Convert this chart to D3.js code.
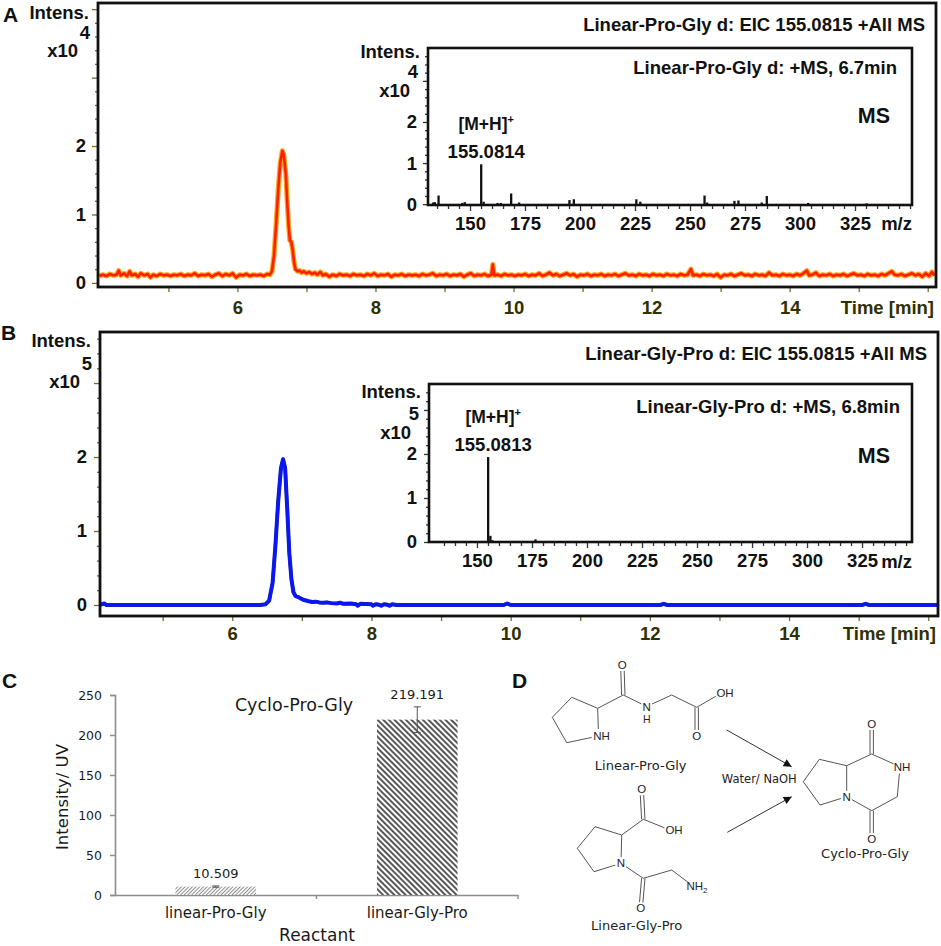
<!DOCTYPE html>
<html>
<head>
<meta charset="utf-8">
<script src="https://cdn.jsdelivr.net/npm/d3@7"></script>
<style>
body { margin: 0; background: #fff; }
svg { display: block; }
</style>
</head>
<body>
<div id="chart"></div>
<script>
// ---------- data (intensities in units of the axis exponent) ----------
// EIC 155.0815, linear Pro-Gly  [time min, intensity x10^4]
var eicProGly = [
[4.00,.10],[4.05,.12],[4.10,.10],[4.15,.13],[4.20,.11],[4.25,.12],[4.28,.18],[4.31,.11],[4.36,.14],[4.40,.10],
[4.44,.17],[4.47,.11],[4.52,.13],[4.56,.09],[4.60,.14],[4.65,.11],[4.70,.13],[4.74,.08],[4.78,.12],[4.83,.10],
[4.88,.13],[4.93,.11],[4.98,.12],[5.03,.10],[5.08,.12],[5.13,.11],[5.18,.13],[5.23,.10],[5.28,.12],[5.33,.11],
[5.38,.14],[5.43,.10],[5.48,.12],[5.53,.11],[5.58,.13],[5.63,.09],[5.68,.12],[5.73,.14],[5.78,.10],[5.83,.13],
[5.88,.11],[5.93,.14],[5.98,.08],[6.03,.12],[6.08,.11],[6.13,.13],[6.18,.10],[6.23,.12],[6.28,.11],[6.33,.12],
[6.38,.10],[6.43,.13],[6.47,.12],[6.50,.17],[6.53,.40],[6.56,.85],[6.59,1.35],[6.62,1.75],[6.65,1.93],[6.67,1.88],
[6.70,1.60],[6.72,1.20],[6.74,.85],[6.76,.62],[6.78,.60],[6.80,.48],[6.82,.30],[6.84,.20],[6.87,.17],[6.90,.18],
[6.93,.15],[6.96,.17],[7.00,.14],[7.04,.16],[7.08,.13],[7.12,.15],[7.16,.12],[7.20,.16],[7.24,.11],[7.28,.13],
[7.33,.09],[7.38,.12],[7.43,.10],[7.48,.13],[7.53,.11],[7.58,.12],[7.63,.10],[7.68,.13],[7.73,.11],[7.78,.12],
[7.83,.10],[7.88,.13],[7.93,.11],[7.98,.14],[8.03,.10],[8.08,.12],[8.13,.11],[8.18,.13],[8.23,.09],[8.28,.12],
[8.33,.11],[8.38,.13],[8.43,.10],[8.48,.12],[8.53,.11],[8.58,.12],[8.63,.10],[8.68,.13],[8.73,.11],[8.78,.12],
[8.83,.14],[8.88,.10],[8.93,.12],[8.98,.11],[9.03,.13],[9.08,.10],[9.13,.12],[9.18,.11],[9.23,.13],[9.28,.09],
[9.33,.12],[9.38,.14],[9.43,.10],[9.48,.12],[9.53,.11],[9.58,.13],[9.63,.10],[9.68,.12],[9.70,.27],[9.72,.11],
[9.77,.12],[9.82,.10],[9.87,.13],[9.92,.11],[9.97,.12],[10.02,.10],[10.07,.12],[10.12,.11],[10.17,.13],[10.22,.10],
[10.27,.12],[10.32,.11],[10.37,.14],[10.42,.10],[10.47,.12],[10.52,.15],[10.57,.11],[10.62,.13],[10.67,.10],[10.72,.12],
[10.77,.14],[10.82,.11],[10.87,.13],[10.92,.09],[10.97,.12],[11.02,.11],[11.07,.13],[11.12,.10],[11.17,.12],[11.22,.11],
[11.27,.13],[11.32,.10],[11.37,.12],[11.42,.11],[11.47,.13],[11.52,.10],[11.57,.12],[11.62,.14],[11.67,.11],[11.72,.12],
[11.77,.10],[11.82,.13],[11.87,.11],[11.92,.12],[11.97,.10],[12.02,.13],[12.07,.11],[12.12,.12],[12.17,.10],[12.22,.13],
[12.27,.11],[12.32,.12],[12.37,.10],[12.42,.13],[12.47,.11],[12.52,.12],[12.57,.20],[12.60,.11],[12.65,.12],[12.70,.10],
[12.75,.13],[12.80,.11],[12.85,.12],[12.90,.10],[12.95,.13],[13.00,.08],[13.05,.12],[13.10,.11],[13.15,.13],[13.20,.10],
[13.25,.12],[13.30,.14],[13.35,.11],[13.40,.12],[13.45,.10],[13.50,.13],[13.55,.11],[13.60,.12],[13.65,.10],[13.70,.15],
[13.75,.11],[13.80,.12],[13.85,.10],[13.90,.13],[13.95,.11],[14.00,.12],[14.05,.10],[14.10,.13],[14.15,.11],[14.20,.14],
[14.25,.18],[14.28,.11],[14.33,.12],[14.38,.15],[14.43,.10],[14.48,.12],[14.53,.11],[14.58,.13],[14.63,.10],[14.68,.12],
[14.73,.11],[14.78,.13],[14.83,.10],[14.88,.12],[14.93,.14],[14.98,.11],[15.03,.12],[15.08,.10],[15.13,.13],[15.18,.11],
[15.23,.12],[15.28,.10],[15.33,.13],[15.38,.11],[15.43,.14],[15.48,.17],[15.52,.12],[15.57,.11],[15.62,.13],[15.67,.10],
[15.72,.12],[15.77,.14],[15.82,.11],[15.87,.13],[15.92,.09],[15.97,.14],[16.02,.10],[16.06,.16],[16.10,.11]
];

// EIC 155.0815, linear Gly-Pro  [time min, intensity x10^5]
var eicGlyPro = [
[4.10,0],[4.16,.02],[4.19,0],[5.00,0],[6.00,0],[6.40,0],[6.48,.01],[6.53,.06],[6.58,.30],[6.62,.80],
[6.66,1.40],[6.70,1.85],[6.73,1.97],[6.76,1.85],[6.79,1.30],[6.82,.70],[6.85,.35],[6.88,.17],[6.91,.12],[6.94,.11],
[6.98,.09],[7.02,.07],[7.06,.06],[7.10,.05],[7.15,.04],[7.20,.045],[7.25,.035],[7.30,.03],[7.36,.035],[7.42,.025],
[7.50,.02],[7.55,.03],[7.60,.015],[7.70,.02],[7.78,.01],[7.80,-.01],[7.84,.015],[8.00,.01],[8.02,-.01],[8.06,.01],
[8.10,.005],[8.14,-.01],[8.18,.01],[8.22,.005],[8.26,-.01],[8.30,.01],[8.36,0],[9.90,0],[9.95,.02],[10.00,0],
[12.15,0],[12.20,.015],[12.25,0],[15.05,0],[15.10,.015],[15.15,0],[16.14,0]
];

// MS at 6.7 min, linear Pro-Gly  [m/z, intensity x10^4]
var msProGly = [
[133.2,.04],[134.0,.05],[135.7,.21],[146.5,.03],[147.6,.05],[155.08,.97],[156.2,.06],[162.5,.03],[164.0,.03],
[168.7,.26],[172.3,.04],[195.2,.10],[197.2,.12],[225.6,.12],[227.4,.06],[256.6,.21],[257.8,.04],[270.2,.08],
[272.0,.09],[282.6,.04],[284.9,.20],[303.7,.03],[330.3,.02]
];

// MS at 6.8 min, linear Gly-Pro  [m/z, intensity x10^5]
var msGlyPro = [[140.0,.01],[155.08,1.93],[156.1,.14],[157.0,.04],[176.6,.06]];

var timeTicks = [6, 8, 10, 12, 14];
var mzTicks = [150, 175, 200, 225, 250, 275, 300, 325];
var intensLabels = [0, 1, 2];

var reactants = ["linear-Pro-Gly", "linear-Gly-Pro"];
var cycloMean = [10.509, 219.191];
var cycloErr = [0.8, 16];
var barTicks = [0, 50, 100, 150, 200, 250];

// ---------- drawing ----------
var W = 941, H = 946;
var bruker = "'Liberation Sans', Arial, sans-serif";
var office = "'DejaVu Sans', Verdana, sans-serif";
var olive = "#6f6f2a";
var fs = 18.5;

var svg = d3.select("#chart").append("svg")
  .attr("width", W).attr("height", H)
  .attr("viewBox", [0, 0, W, H]);

var defs = svg.append("defs");

function styleAxis(g, color, textColor) {
  g.select(".domain").remove();
  g.selectAll(".tick line").attr("stroke", color).attr("stroke-width", 1.3);
  g.selectAll(".tick text")
    .attr("fill", textColor)
    .attr("font-family", bruker)
    .attr("font-weight", "bold")
    .attr("font-size", fs);
}

function label(x, y, txt, opt) {
  opt = opt || {};
  return svg.append("text")
    .attr("x", x).attr("y", y)
    .attr("text-anchor", opt.anchor || "start")
    .attr("font-family", opt.font || bruker)
    .attr("font-weight", opt.weight || "bold")
    .attr("font-size", opt.size || fs)
    .attr("fill", opt.color || "#111")
    .text(txt);
}

// main chromatogram panel with inset spectrum
function chromPanel(p) {
  var x = d3.scaleLinear().domain(p.xDom).range([p.x0, p.x1]);
  var y = d3.scaleLinear().domain(p.yDom).range([p.y1, p.y0]);
  var g = svg.append("g");

  var yMinor = d3.range(0, p.yDom[1], 0.2).filter(function(v) { return Math.abs(v - Math.round(v)) > 1e-6; });
  var yMajor = d3.range(0, Math.floor(p.yDom[1]) + 1, 1);
  g.append("g").attr("transform", "translate(" + p.x0 + ",0)")
    .call(d3.axisLeft(y).tickValues(yMinor).tickSize(3).tickFormat(""))
    .call(styleAxis, olive, "#111");
  g.append("g").attr("transform", "translate(" + p.x0 + ",0)")
    .call(d3.axisLeft(y).tickValues(yMajor).tickSize(6).tickPadding(p.yPad)
      .tickFormat(function(d) { return intensLabels.indexOf(d) >= 0 ? d : ""; }))
    .call(styleAxis, olive, "#111");

  var xMinor = d3.range(5, p.xDom[1], 2);
  g.append("g").attr("transform", "translate(0," + p.y1 + ")")
    .call(d3.axisBottom(x).tickValues(xMinor).tickSize(5).tickFormat(""))
    .call(styleAxis, olive, "#303000");
  g.append("g").attr("transform", "translate(0," + p.y1 + ")")
    .call(d3.axisBottom(x).tickValues(timeTicks.concat([16])).tickSize(5).tickPadding(p.xPad)
      .tickFormat(function(d) { return timeTicks.indexOf(d) >= 0 ? d : ""; }))
    .call(styleAxis, olive, "#303000");

  var clipId = "clip" + p.id;
  defs.append("clipPath").attr("id", clipId)
    .append("rect").attr("x", p.x0).attr("y", p.y0)
    .attr("width", p.x1 - p.x0).attr("height", p.y1 - p.y0);

  var line = d3.line().x(function(d) { return x(d[0]); }).y(function(d) { return y(d[1]); });
  var tr = g.append("g").attr("clip-path", "url(#" + clipId + ")");
  tr.append("path").datum(p.data).attr("d", line).attr("fill", "none")
    .attr("stroke", p.halo).attr("stroke-width", p.haloWidth).attr("stroke-linejoin", "round");
  tr.append("path").datum(p.data).attr("d", line).attr("fill", "none")
    .attr("stroke", p.color).attr("stroke-width", p.width).attr("stroke-linejoin", "round");

  g.append("rect").attr("x", p.x0).attr("y", p.y0)
    .attr("width", p.x1 - p.x0).attr("height", p.y1 - p.y0)
    .attr("fill", "none").attr("stroke", "#111").attr("stroke-width", 2.8);

  label(p.x1 - 2, p.timeBase, "Time [min]", { anchor: "end", color: "#303000" });
  label(p.x0 - 9, p.intensBase, "Intens.", { anchor: "end" });
  label(p.x0 - 8, p.expBase, p.exp, { anchor: "end" });
  label(p.x0 - 20, p.expBase + 18, "x10", { anchor: "end" });
  label(p.titleX, p.titleBase, p.title, { anchor: "end" });
  label(p.letterX, p.letterBase, p.letter, { size: 21 });

  inset(p.inset);
}

function inset(q) {
  var x = d3.scaleLinear().domain(q.xDom).range([q.x0, q.x1]);
  var y = d3.scaleLinear().domain(q.yDom).range([q.y1, q.y0]);
  var g = svg.append("g");

  g.append("rect").attr("x", q.x0).attr("y", q.y0)
    .attr("width", q.x1 - q.x0).attr("height", q.y1 - q.y0).attr("fill", "#fff");

  var yMinor = d3.range(0, q.yDom[1], 0.2).filter(function(v) { return Math.abs(v - Math.round(v)) > 1e-6; });
  var yMajor = d3.range(0, Math.floor(q.yDom[1]) + 1, 1);
  g.append("g").attr("transform", "translate(" + q.x0 + ",0)")
    .call(d3.axisLeft(y).tickValues(yMinor).tickSize(3).tickFormat(""))
    .call(styleAxis, "#333", "#111");
  g.append("g").attr("transform", "translate(" + q.x0 + ",0)")
    .call(d3.axisLeft(y).tickValues(yMajor).tickSize(5).tickPadding(q.yPad)
      .tickFormat(function(d) { return intensLabels.indexOf(d) >= 0 ? d : ""; }))
    .call(styleAxis, "#333", "#111");

  var xMinor = d3.range(135, q.xDom[1], 5).filter(function(v) { return mzTicks.indexOf(v) < 0; });
  g.append("g").attr("transform", "translate(0," + q.y1 + ")")
    .call(d3.axisBottom(x).tickValues(xMinor).tickSize(4).tickFormat(""))
    .call(styleAxis, "#333", "#111");
  g.append("g").attr("transform", "translate(0," + q.y1 + ")")
    .call(d3.axisBottom(x).tickValues(mzTicks).tickSize(6).tickPadding(6))
    .call(styleAxis, "#333", "#111");

  g.selectAll(".stick").data(q.data).enter().append("line")
    .attr("x1", function(d) { return x(d[0]); }).attr("x2", function(d) { return x(d[0]); })
    .attr("y1", y(0)).attr("y2", function(d) { return y(d[1]); })
    .attr("stroke", "#111").attr("stroke-width", 2.3);

  g.append("rect").attr("x", q.x0).attr("y", q.y0)
    .attr("width", q.x1 - q.x0).attr("height", q.y1 - q.y0)
    .attr("fill", "none").attr("stroke", "#111").attr("stroke-width", 2.6);

  label(q.x1, q.axisBase, "m/z", { anchor: "end" });
  label(q.x0 - 8, q.intensBase, "Intens.", { anchor: "end" });
  label(q.x0 - 10, q.expBase, q.exp, { anchor: "end" });
  label(q.x0 - 18, q.expBase + 19, "x10", { anchor: "end" });
  label(q.titleX, q.titleBase, q.title, { anchor: "end" });
  label(q.x1 - 22, q.msBase, "MS", { anchor: "end", size: 21.5 });

  // annotate the base peak
  var top = q.data.reduce(function(a, b) { return b[1] > a[1] ? b : a; });
  var px = x(top[0]) + 5;
  var t = label(px, y(top[1]) - 34, "[M+H]", { anchor: "middle", size: 17.5 });
  t.append("tspan").attr("dy", -7).attr("font-size", 11).text("+");
  label(px, y(top[1]) - 6, q.peakLabel, { anchor: "middle" });
}

chromPanel({
  id: "A", letter: "A", letterX: 3, letterBase: 22,
  x0: 98, x1: 936, y0: 3, y1: 287,
  xDom: [3.98, 16.12], yDom: [-0.06, 4.09],
  yPad: 6, xPad: 9, timeBase: 314,
  intensBase: 19, expBase: 39, exp: "4",
  title: "Linear-Pro-Gly d: EIC 155.0815 +All MS", titleX: 925, titleBase: 31,
  data: eicProGly, color: "#ff1e00", width: 2.6, halo: "#ffa51f", haloWidth: 5,
  inset: {
    x0: 428, x1: 912, y0: 48, y1: 205, xDom: [130.9, 350.9], yDom: [-0.02, 3.8],
    yPad: 6, axisBase: 230, intensBase: 58, expBase: 78, exp: "4",
    title: "Linear-Pro-Gly d: +MS, 6.7min", titleX: 897, titleBase: 74, msBase: 123,
    data: msProGly, peakLabel: "155.0814"
  }
});

chromPanel({
  id: "B", letter: "B", letterX: 1, letterBase: 340,
  x0: 100, x1: 938, y0: 332, y1: 616,
  xDom: [4.10, 16.14], yDom: [-0.149, 3.69],
  yPad: 7, xPad: 6, timeBase: 640,
  intensBase: 347, expBase: 370, exp: "5",
  title: "Linear-Gly-Pro d: EIC 155.0815 +All MS", titleX: 927, titleBase: 360,
  data: eicGlyPro, color: "#0a14ff", width: 3.2, halo: "#1a2a9a", haloWidth: 4,
  inset: {
    x0: 429, x1: 912, y0: 384, y1: 542, xDom: [128.2, 347.7], yDom: [0, 3.59],
    yPad: 7, axisBase: 568, intensBase: 398, expBase: 420, exp: "5",
    title: "Linear-Gly-Pro d: +MS, 6.8min", titleX: 900, titleBase: 413, msBase: 463,
    data: msGlyPro, peakLabel: "155.0813"
  }
});

// ---------- C: bar chart ----------
(function() {
  var x0 = 115, x1 = 518, yTop = 695, yBot = 895;
  var x = d3.scaleBand().domain(reactants).range([x0, x1]).paddingInner(0).paddingOuter(0);
  var y = d3.scaleLinear().domain([0, 250]).range([yBot, yTop]);
  var g = svg.append("g");
  var grey = "#8c8c8c";

  function hatch(id, angle, size, w, color) {
    var pt = defs.append("pattern").attr("id", id)
      .attr("patternUnits", "userSpaceOnUse").attr("width", size).attr("height", size)
      .attr("patternTransform", "rotate(" + angle + ")");
    pt.append("rect").attr("width", size).attr("height", size).attr("fill", "#fff");
    pt.append("line").attr("x1", size / 2).attr("x2", size / 2).attr("y1", 0).attr("y2", size)
      .attr("stroke", color).attr("stroke-width", w);
  }
  hatch("hatch0", 45, 2.6, 1.0, "#8a8a8a");
  hatch("hatch1", -45, 4.0, 1.7, "#3a3a3a");

  var ya = g.append("g").attr("transform", "translate(" + x0 + ",0)")
    .call(d3.axisLeft(y).tickValues(barTicks).tickSize(5).tickPadding(8));
  ya.select(".domain").attr("stroke", grey).attr("stroke-width", 1.6);
  ya.selectAll(".tick line").attr("stroke", grey).attr("stroke-width", 1.4);
  ya.selectAll(".tick text").attr("font-family", office).attr("font-size", 12.5).attr("fill", "#1a1a1a");

  var xa = g.append("g").attr("transform", "translate(0," + yBot + ")")
    .call(d3.axisBottom(x).tickSize(0).tickPadding(12));
  xa.select(".domain").attr("stroke", grey).attr("stroke-width", 1.6);
  xa.selectAll(".tick text").attr("font-family", office).attr("font-size", 15).attr("fill", "#1a1a1a");

  g.selectAll(".sep").data(reactants).enter().append("line")
    .attr("x1", function(d) { return x(d) + x.bandwidth(); })
    .attr("x2", function(d) { return x(d) + x.bandwidth(); })
    .attr("y1", yBot).attr("y2", yBot + 4)
    .attr("stroke", grey).attr("stroke-width", 1.4);

  var bw = x.bandwidth() * 0.4;
  g.selectAll(".bar").data(reactants).enter().append("rect")
    .attr("x", function(d) { return x(d) + (x.bandwidth() - bw) / 2; })
    .attr("width", bw)
    .attr("y", function(d, i) { return y(cycloMean[i]); })
    .attr("height", function(d, i) { return yBot - y(cycloMean[i]); })
    .attr("fill", function(d, i) { return "url(#hatch" + i + ")"; });

  var eb = g.selectAll(".err").data(reactants).enter().append("g")
    .attr("stroke", "#555").attr("stroke-width", 1);
  eb.append("line")
    .attr("x1", function(d) { return x(d) + x.bandwidth() / 2; })
    .attr("x2", function(d) { return x(d) + x.bandwidth() / 2; })
    .attr("y1", function(d, i) { return y(cycloMean[i] - cycloErr[i]); })
    .attr("y2", function(d, i) { return y(cycloMean[i] + cycloErr[i]); });
  [1, -1].forEach(function(s) {
    eb.append("line")
      .attr("x1", function(d) { return x(d) + x.bandwidth() / 2 - 3.5; })
      .attr("x2", function(d) { return x(d) + x.bandwidth() / 2 + 3.5; })
      .attr("y1", function(d, i) { return y(cycloMean[i] + s * cycloErr[i]); })
      .attr("y2", function(d, i) { return y(cycloMean[i] + s * cycloErr[i]); });
  });

  g.selectAll(".val").data(reactants).enter().append("text")
    .attr("x", function(d) { return x(d) + x.bandwidth() / 2; })
    .attr("y", function(d, i) { return y(cycloMean[i] + cycloErr[i]) - 8; })
    .attr("text-anchor", "middle").attr("font-family", office).attr("font-size", 13)
    .attr("fill", "#1a1a1a")
    .text(function(d, i) { return cycloMean[i].toFixed(3); });

  label(294, 711, "Cyclo-Pro-Gly", { anchor: "middle", font: office, weight: "normal", size: 17.5, color: "#1a1a1a" });
  label(317, 941, "Reactant", { anchor: "middle", font: office, weight: "normal", size: 17, color: "#1a1a1a" });
  label(0, 0, "Intensity/ UV", { anchor: "middle", font: office, weight: "normal", size: 16.5, color: "#1a1a1a" })
    .attr("transform", "translate(68,797) rotate(-90)");
  label(2, 688, "C", { size: 21 });
})();

// ---------- D: reaction scheme ----------
(function() {
  var g = svg.append("g");
  var bondCol = "#555";
  label(512, 688, "D", { size: 21 });

  function molecule(atoms, bonds) {
    bonds.forEach(function(b) {
      var a = atoms[b[0]], c = atoms[b[1]];
      var dx = c.x - a.x, dy = c.y - a.y, len = Math.sqrt(dx * dx + dy * dy);
      var ux = dx / len, uy = dy / len;
      var sa = a.label ? (a.gap || 6) : 0, sc = c.label ? (c.gap || 6) : 0;
      var p1 = [a.x + ux * sa, a.y + uy * sa], p2 = [c.x - ux * sc, c.y - uy * sc];
      var offs = b[2] === 2 ? [-1.7, 1.7] : [0];
      offs.forEach(function(o) {
        g.append("line")
          .attr("x1", p1[0] - uy * o).attr("y1", p1[1] + ux * o)
          .attr("x2", p2[0] - uy * o).attr("y2", p2[1] + ux * o)
          .attr("stroke", bondCol).attr("stroke-width", 1);
      });
    });
    Object.keys(atoms).forEach(function(k) {
      var a = atoms[k];
      if (!a.label) return;
      var t = g.append("text").attr("x", a.x + (a.dx || 0)).attr("y", a.y + 4)
        .attr("text-anchor", "middle").attr("font-family", bruker).attr("font-size", 11.5)
        .attr("fill", "#222").text(a.label);
      if (a.sub) t.append("tspan").attr("dy", 3).attr("font-size", 8).text(a.sub);
      if (a.below) t.append("tspan").attr("x", a.x).attr("dy", 12).attr("font-size", 10.5).text(a.below);
    });
  }

  molecule({
    r1: {x: 571.7, y: 697.3}, r2: {x: 597.7, y: 708.3}, rn: {x: 598.5, y: 736, label: "NH", dx: 3, gap: 7},
    r4: {x: 566.7, y: 742.7}, r5: {x: 552.3, y: 717.3},
    c1: {x: 623.3, y: 695}, o1: {x: 622.3, y: 665, label: "O"},
    n2: {x: 646.7, y: 706.5, label: "N", below: "H"},
    c3: {x: 671.7, y: 695}, c4: {x: 696.7, y: 707.3},
    oh: {x: 721, y: 693.3, label: "OH", dx: 4}, o2: {x: 696.7, y: 736, label: "O"}
  }, [["r1","r2"],["r2","rn"],["rn","r4"],["r4","r5"],["r5","r1"],["r2","c1"],["c1","o1",2],
      ["c1","n2"],["n2","c3"],["c3","c4"],["c4","oh"],["c4","o2",2]]);

  molecule({
    q1: {x: 595, y: 826.7}, q2: {x: 621.7, y: 835}, qn: {x: 621, y: 863.3, label: "N"},
    q4: {x: 594, y: 871.7}, q5: {x: 577.3, y: 848.3},
    d1: {x: 643.3, y: 819.3}, d2: {x: 641.7, y: 789.3, label: "O"}, d3: {x: 670, y: 830, label: "OH", dx: 4},
    e1: {x: 643.3, y: 878.3}, e2: {x: 640.7, y: 908.3, label: "O"}, e3: {x: 671.7, y: 870},
    e4: {x: 693, y: 886, label: "NH", sub: "2", dx: 4}
  }, [["q1","q2"],["q2","qn"],["qn","q4"],["q4","q5"],["q5","q1"],["q2","d1"],["d1","d2",2],["d1","d3"],
      ["qn","e1"],["e1","e2",2],["e1","e3"],["e3","e4"]]);

  molecule({
    k8a: {x: 846.7, y: 765.7}, k1: {x: 871.7, y: 754}, ko1: {x: 871.7, y: 724, label: "O"},
    kn2: {x: 900, y: 766.7, label: "NH", dx: 2, gap: 7}, k3: {x: 897.3, y: 796.7}, k4: {x: 871.7, y: 810.7},
    ko4: {x: 871.7, y: 839, label: "O"}, kn5: {x: 846.7, y: 796.7, label: "N"},
    k6: {x: 820, y: 805}, k7: {x: 803.3, y: 781.7}, k8: {x: 819.3, y: 759.3}
  }, [["k8a","k1"],["k1","ko1",2],["k1","kn2"],["kn2","k3"],["k3","k4"],["k4","ko4",2],["k4","kn5"],
      ["kn5","k8a"],["kn5","k6"],["k6","k7"],["k7","k8"],["k8","k8a"]]);

  defs.append("marker").attr("id", "arrow").attr("viewBox", "0 0 10 10")
    .attr("refX", 10).attr("refY", 5).attr("markerWidth", 11).attr("markerHeight", 8)
    .attr("markerUnits", "userSpaceOnUse").attr("orient", "auto")
    .append("path").attr("d", "M0,0L10,5L0,10z").attr("fill", "#111");
  [[726.7, 730, 791.7, 766.7], [727.3, 832.3, 791.7, 796.7]].forEach(function(a) {
    g.append("line").attr("x1", a[0]).attr("y1", a[1]).attr("x2", a[2]).attr("y2", a[3])
      .attr("stroke", "#333").attr("stroke-width", 1).attr("marker-end", "url(#arrow)");
  });

  var nameOpt = { anchor: "middle", font: office, weight: "normal", size: 13, color: "#222" };
  label(640.7, 769.5, "Linear-Pro-Gly", nameOpt);
  label(636.7, 929.5, "Linear-Gly-Pro", nameOpt);
  label(865, 858, "Cyclo-Pro-Gly", nameOpt);
  label(759.3, 783, "Water/ NaOH", { anchor: "middle", font: office, weight: "normal", size: 11.5, color: "#222" });
})();
</script>
</body>
</html>
